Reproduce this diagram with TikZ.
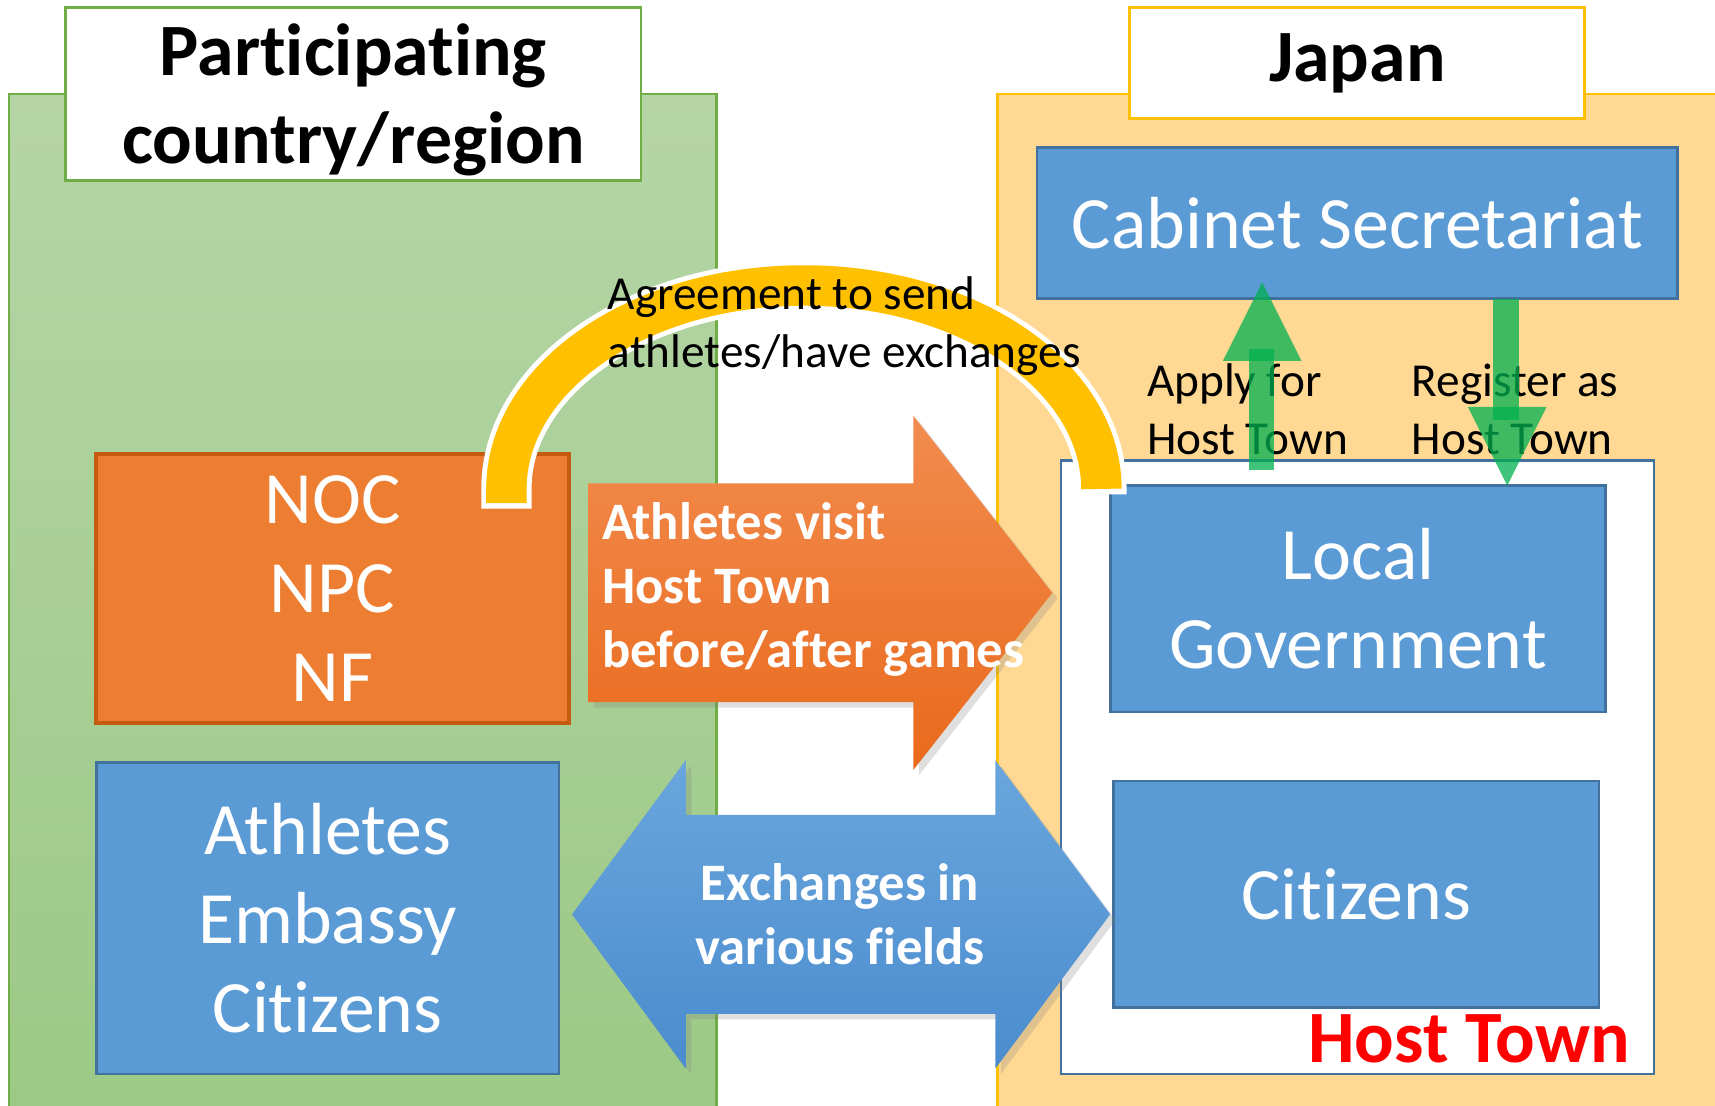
\documentclass[tikz,border=0pt]{standalone}
\usepackage{fontspec}
\setmainfont[Ligatures={NoCommon,NoContextual},RawFeature={-liga,-clig,-calt}]{Carlito}
\usepackage{tikz}
\usepackage{xcolor}
\usetikzlibrary{positioning,shadows}

\definecolor{leaftop}{HTML}{B5D5A7}
\definecolor{leafbottom}{HTML}{9CC985}
\definecolor{leafline}{HTML}{70AD47}
\definecolor{sand}{HTML}{FFD993}
\definecolor{gold}{HTML}{FFC000}
\definecolor{boxblue}{HTML}{5B9BD5}
\definecolor{boxline}{HTML}{41719C}
\definecolor{nocorange}{HTML}{ED7D31}
\definecolor{nocline}{HTML}{C55A11}
\definecolor{visittop}{HTML}{F28C4F}
\definecolor{visitbottom}{HTML}{E96A1C}
\definecolor{swaptop}{HTML}{6AA6DD}
\definecolor{swapbottom}{HTML}{4A8CCE}
\definecolor{grass}{HTML}{00B050}

\begin{document}
\begin{tikzpicture}[x=0.1mm,y=-0.1mm,
		bigfont/.style={font=\fontsize{19.2}{23.2}\selectfont},
		bluebox/.style={draw=boxline,fill=boxblue,line width=0.25mm,text=white,align=center,inner sep=0pt,bigfont},
		headbox/.style={fill=white,line width=0.25mm,align=center,inner sep=0pt,font=\fontsize{19.2}{23.4}\selectfont\bfseries},
		blocktext/.style={text=white,inner sep=0pt,font=\fontsize{13.7}{16.6}\selectfont\bfseries},
		smalltext/.style={inner sep=0pt,align=left,anchor=west,font=\fontsize{12.3}{15}\selectfont},
		greenarrow/.style={fill=grass,opacity=0.75}]
				\useasboundingbox (0,0) rectangle (1568,1011);
				% Participating side
				\filldraw[leafline][top color=leaftop,bottom color=leafbottom,line width=0.2mm] (8,86) rectangle (655,1030);
				\node[headbox,draw=leafline,minimum width=52.6mm,minimum height=15.8mm,text depth=0pt] (participant) at (323,86) {Participating\\[-0.5pt]country/region\rule[-4pt]{0pt}{1pt}};
				\node[draw=nocline,fill=nocorange,line width=0.35mm,text=white,align=center,inner sep=0pt,bigfont,minimum width=43.2mm,minimum height=24.6mm] (noc) at (304,538) {NOC\\NPC\\NF};
				\node[bluebox,minimum width=42.3mm,minimum height=28.5mm] (athletes) at (299.5,839.5) {Athletes\\Embassy\\Citizens};
				% Japan side
				\filldraw[gold][fill=sand,line width=0.2mm] (912,86) rectangle (1580,1030);
				\node[headbox,draw=gold,minimum width=41.6mm,minimum height=10.1mm] (japan) at (1241,57.5) {Japan};
				\node[bluebox,minimum width=58.6mm,minimum height=13.8mm] (cabinet) at (1241,204) {Cabinet Secretariat};
				\node[draw=boxline,fill=white,line width=0.2mm,minimum width=54.2mm,minimum height=56.1mm] (hosttown) at (1241,701.5) {};
				\node[bluebox,minimum width=45.3mm,minimum height=20.7mm] (localgov) at (1241.5,547.5) {Local\\Government};
				\node[bluebox,minimum width=44.4mm,minimum height=20.7mm] (citizens) at (1240,817.5) {Citizens};
				\node[text=red,inner sep=0pt,font=\fontsize{19.2}{22}\selectfont\bfseries] (hostlabel) at (1343,950) {Host Town};
				% Block arrows
				\path[top color=visittop,bottom color=visitbottom,drop shadow={shadow xshift=0.5mm,shadow yshift=-0.5mm,opacity=0.25}]
					(538,442) -- (835,442) -- (835,380) -- (962,542) -- (835,704) -- (835,642) -- (538,642) -- cycle;
				\node[blocktext,align=left,anchor=west] (visit) at (550,539) {Athletes visit\\Host Town\\before/after games};
				\path[top color=swaptop,bottom color=swapbottom,drop shadow={shadow xshift=0.5mm,shadow yshift=-0.5mm,opacity=0.25}]
					(523,836) -- (627,695) -- (627,745) -- (910,745) -- (910,695) -- (1015,836) -- (910,977) -- (910,927) -- (627,927) -- (627,977) -- cycle;
				\node[blocktext,align=center] (exchange) at (768,836) {Exchanges in\\various fields};
				% Agreement arc
				\draw[white,line width=4.6mm] (463,465) -- (463,447) arc[start angle=180,end angle=360,x radius=272,y radius=186] -- (1007,452);
				\draw[gold,line width=3.7mm] (463,460) -- (463,447) arc[start angle=180,end angle=360,x radius=272,y radius=186];
				\node[smalltext] (agreement) at (555,298) {Agreement to send\\athletes/have exchanges};
				% Apply / register
				\node[smalltext] (apply) at (1048,374) {Apply for\\Host Town};
				\node[smalltext] (register) at (1290,374) {Register as\\Host Town};
				\coordinate [] (applyfoot) at (1142,430) ;
				\coordinate [] (applyneck) at (1165,319) ;
				\coordinate [] (applytip) at (1154,258) ;
				\coordinate [] (registertop) at (1365,273) ;
				\coordinate [] (registerneck) at (1389,384) ;
				\coordinate [] (registertip) at (1378,444) ;
				\fill[greenarrow] (applyfoot) rectangle (applyneck);
				\fill[greenarrow] (applytip) -- ++(-36,72) -- ++(72,0) -- cycle;
				\fill[greenarrow] (registertop) rectangle (registerneck);
				\fill[greenarrow] (registertip) -- ++(-36,-72) -- ++(72,0) -- cycle;
\end{tikzpicture}
\end{document}
